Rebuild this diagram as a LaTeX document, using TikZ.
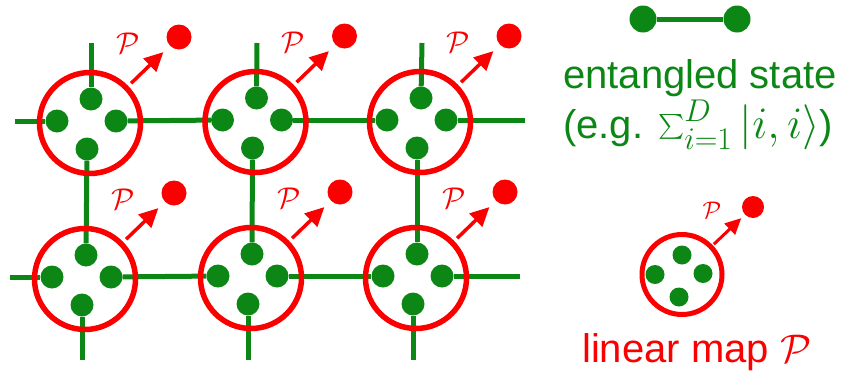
\RequirePackage{fix-cm}
\documentclass[tikz,border=0pt]{standalone}
\usepackage{exscale}
\usepackage{fontspec}
\setmainfont{Liberation Sans}
\usetikzlibrary{arrows.meta}
\definecolor{grn}{RGB}{12,135,22}
\definecolor{rd}{RGB}{250,0,0}
\tikzset{
  gdot/.style={circle,fill=grn,inner sep=0pt,minimum size=23pt},
  ldot/.style={circle,fill=grn,inner sep=0pt,minimum size=19pt},
  bond/.style={draw=grn,line width=5pt},
  ring/.style={circle,draw=rd,line width=5.5pt,inner sep=0pt,minimum size=101pt},
  lring/.style={circle,draw=rd,line width=5pt,inner sep=0pt,minimum size=80pt},
  rdot/.style={circle,fill=rd,inner sep=0pt,minimum size=25pt},
  parrow/.style={draw=rd,line width=3.5pt,-{Triangle[length=19pt,width=18pt]}},
  plabel/.style={text=rd,font=\fontsize{30}{32}\selectfont,inner sep=0pt},
  bigtext/.style={font=\fontsize{40}{50}\selectfont,inner sep=0pt,anchor=base west}
}
\newcommand\mydots[3]{%
  \begin{scope}[shift={(#2,#3)}]
    \node[gdot] (#1t) at (1,-24) {};
    \node[gdot] (#1l) at (-33,-2) {};
    \node[gdot] (#1r) at (26,-2) {};
    \node[gdot] (#1b) at (-3,26) {};
  \end{scope}}
\newcommand\myring[3]{%
  \begin{scope}[shift={(#2,#3)}]
    \node[ring] (#1) at (0,0) {};
    \node[rdot] (#1p) at (89,-86) {};
    \node[plabel] (#1lab) at (38,-80) {$\mathcal{P}$};
  \end{scope}
  \draw[parrow,shorten <=4pt,shorten >=9pt] (#1) -- (#1p);}
\begin{document}
\begin{tikzpicture}[x=1pt,y=-1pt]
\useasboundingbox (0,0) rectangle (846,375);
% dots of the lattice
\mydots{a}{90}{123}
\mydots{b}{255.5}{122}
\mydots{c}{420}{122}
\mydots{d}{85}{279}
\mydots{e}{251}{278}
\mydots{f}{416}{278}
% free ends
\coordinate (h1) at (15,121);
\coordinate (h2) at (525,120);
\coordinate (h3) at (10,277);
\coordinate (h4) at (520,276);
\coordinate (v1) at (91,43);
\coordinate (v2) at (257,43);
\coordinate (v3) at (422,43);
\coordinate (v4) at (82,360);
\coordinate (v5) at (248,360);
\coordinate (v6) at (413,360);
% bonds
\draw[bond] (h1) -- (al);
\draw[bond] (ar) -- (bl);
\draw[bond] (br) -- (cl);
\draw[bond] (cr) -- (h2);
\draw[bond] (h3) -- (dl);
\draw[bond] (dr) -- (el);
\draw[bond] (er) -- (fl);
\draw[bond] (fr) -- (h4);
\draw[bond] (v1) -- (at);
\draw[bond] (v2) -- (bt);
\draw[bond] (v3) -- (ct);
\draw[bond] (ab) -- (dt);
\draw[bond] (bb) -- (et);
\draw[bond] (cb) -- (ft);
\draw[bond] (db) -- (v4);
\draw[bond] (eb) -- (v5);
\draw[bond] (fb) -- (v6);
% rings and maps
\myring{A}{90}{123}
\myring{B}{255.5}{122}
\myring{C}{420}{122}
\myring{D}{85}{279}
\myring{E}{251}{278}
\myring{F}{416}{278}
% legend: entangled state
\node[circle,fill=grn,inner sep=0pt,minimum width=27pt,minimum height=24pt] (la) at (643,19) {};
\node[circle,fill=grn,inner sep=0pt,minimum width=27pt,minimum height=24pt] (lb) at (737,19) {};
\draw[draw=grn,line width=5pt] (la) -- (lb);
\node[bigtext,text=grn,align=left] (t1) at (563,138) {entangled state\\
  \lineskiplimit=-100pt\lineskip=0pt(e.g. {\fontsize{45}{50}\selectfont$\sum_{i=1}^{D}|i,i\rangle$})};
% legend: linear map
\node[ldot] (mt) at (682,255) {};
\node[ldot] (ml) at (655,274.5) {};
\node[ldot] (mr) at (703,273.5) {};
\node[ldot] (mb) at (679,297) {};
\node[lring] (M) at (682,274.5) {};
\node[rdot,minimum size=22pt] (Mp) at (753,207) {};
\node[plabel,font=\fontsize{24}{26}\selectfont] (Mlab) at (712,210) {$\mathcal{P}$};
\draw[parrow,line width=3pt,-{Triangle[length=16pt,width=15pt]},shorten <=1.5pt,shorten >=5pt] (M) -- (Mp);
\node[bigtext,text=rd] (t3) at (582,362) {linear map $\mathcal{P}$};
\end{tikzpicture}
\end{document}
